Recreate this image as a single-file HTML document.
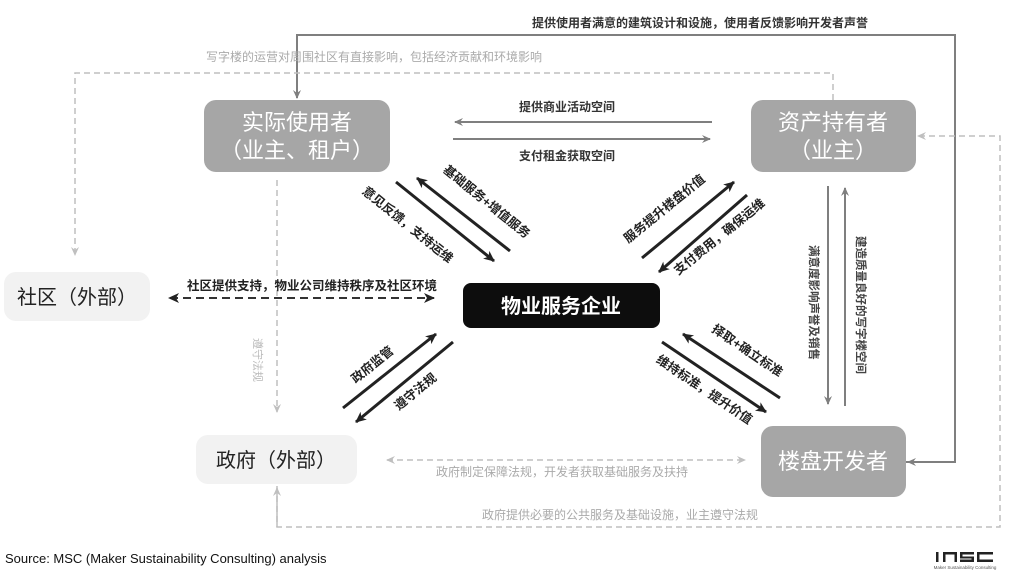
<!DOCTYPE html>
<html><head><meta charset="utf-8"><style>
html,body{margin:0;padding:0;background:#fff;}
svg{display:block;font-family:"Liberation Sans","Noto Sans CJK SC",sans-serif;}
</style></head><body>
<svg width="1017" height="581" viewBox="0 0 1017 581" xmlns="http://www.w3.org/2000/svg">
<defs>
<marker id="ag" markerWidth="10" markerHeight="10" refX="8" refY="5" orient="auto" markerUnits="userSpaceOnUse"><path d="M0,1 L9,5 L0,9 L3,5 z" fill="#7f7f7f"/></marker>
<marker id="al" markerWidth="10" markerHeight="10" refX="8" refY="5" orient="auto" markerUnits="userSpaceOnUse"><path d="M0,1 L9,5 L0,9 L3,5 z" fill="#bfbfbf"/></marker>
<marker id="ak" markerWidth="12" markerHeight="12" refX="10" refY="6" orient="auto" markerUnits="userSpaceOnUse"><path d="M0,1 L11,6 L0,11 L3,6 z" fill="#222"/></marker>
<marker id="aks" markerWidth="12" markerHeight="12" refX="2" refY="6" orient="auto" markerUnits="userSpaceOnUse"><path d="M11,1 L0,6 L11,11 L8,6 z" fill="#222"/></marker>
<marker id="als" markerWidth="10" markerHeight="10" refX="1" refY="5" orient="auto" markerUnits="userSpaceOnUse"><path d="M9,1 L0,5 L9,9 L6,5 z" fill="#bfbfbf"/></marker>
</defs>

<polyline points="906,462 955,462 955,35 297,35 297,98" fill="none" stroke="#7f7f7f" stroke-width="2" marker-end="url(#ag)"/>
<line x1="955" y1="462" x2="908" y2="462" stroke="#7f7f7f" stroke-width="2" marker-end="url(#ag)"/>
<text x="700" y="27" font-size="12" font-weight="bold" fill="#333" text-anchor="middle">提供使用者满意的建筑设计和设施，使用者反馈影响开发者声誉</text>

<polyline points="833,100 833,73 75,73 75,255" fill="none" stroke="#bfbfbf" stroke-width="1.5" stroke-dasharray="6,4" marker-end="url(#al)"/>
<text x="374" y="61" font-size="12" fill="#aaa" text-anchor="middle">写字楼的运营对周围社区有直接影响，包括经济贡献和环境影响</text>

<polyline points="277,486 277,527 1000,527 1000,136 918,136" fill="none" stroke="#bfbfbf" stroke-width="1.5" stroke-dasharray="6,4" marker-end="url(#al)"/>
<line x1="277" y1="527" x2="277" y2="488" stroke="#bfbfbf" stroke-width="1.5" marker-end="url(#al)"/>
<text x="620" y="519" font-size="12" fill="#aaa" text-anchor="middle">政府提供必要的公共服务及基础设施，业主遵守法规</text>

<line x1="277" y1="180" x2="277" y2="412" stroke="#bfbfbf" stroke-width="1.5" stroke-dasharray="6,4" marker-end="url(#al)"/>
<text transform="translate(254,338) rotate(90)" font-size="11" fill="#bbb">遵守法规</text>

<line x1="387" y1="460" x2="745" y2="460" stroke="#bfbfbf" stroke-width="1.5" stroke-dasharray="6,4" marker-end="url(#al)" marker-start="url(#als)"/>
<text x="562" y="476" font-size="12" fill="#aaa" text-anchor="middle">政府制定保障法规，开发者获取基础服务及扶持</text>

<line x1="170" y1="298" x2="434" y2="298" stroke="#333" stroke-width="2" stroke-dasharray="8,5" marker-end="url(#ak)" marker-start="url(#aks)"/>
<text x="312" y="290" font-size="12.5" font-weight="bold" fill="#222" text-anchor="middle">社区提供支持，物业公司维持秩序及社区环境</text>

<line x1="712" y1="122" x2="455" y2="122" stroke="#7f7f7f" stroke-width="2" marker-end="url(#ag)"/>
<line x1="453" y1="139" x2="710" y2="139" stroke="#7f7f7f" stroke-width="2" marker-end="url(#ag)"/>
<text x="567" y="111" font-size="12" font-weight="bold" fill="#333" text-anchor="middle">提供商业活动空间</text>
<text x="567" y="160" font-size="12" font-weight="bold" fill="#333" text-anchor="middle">支付租金获取空间</text>

<line x1="828" y1="186" x2="828" y2="404" stroke="#7f7f7f" stroke-width="2" marker-end="url(#ag)"/>
<line x1="845" y1="406" x2="845" y2="188" stroke="#7f7f7f" stroke-width="2" marker-end="url(#ag)"/>
<text transform="translate(810,245) rotate(90)" font-size="11.5" font-weight="bold" fill="#444">满意度影响声誉及销售</text>
<text transform="translate(857,236) rotate(90)" font-size="11.5" font-weight="bold" fill="#444">建造质量良好的写字楼空间</text>

<g stroke="#222" stroke-width="3">
<line x1="510" y1="251" x2="417" y2="178" marker-end="url(#ak)"/>
<line x1="396" y1="182" x2="494" y2="261" marker-end="url(#ak)"/>
<line x1="642" y1="258" x2="734" y2="182" marker-end="url(#ak)"/>
<line x1="747" y1="195" x2="659" y2="272" marker-end="url(#ak)"/>
<line x1="343" y1="408" x2="436" y2="334" marker-end="url(#ak)"/>
<line x1="453" y1="342" x2="356" y2="422" marker-end="url(#ak)"/>
<line x1="780" y1="398" x2="683" y2="334" marker-end="url(#ak)"/>
<line x1="662" y1="342" x2="766" y2="412" marker-end="url(#ak)"/>
</g>
<g font-size="12.5" font-weight="bold" fill="#222" text-anchor="middle">
<text transform="translate(484,205) rotate(39)">基础服务+增值服务</text>
<text transform="translate(405,228) rotate(39)">意见反馈，支持运维</text>
<text transform="translate(667,212) rotate(-39)">服务提升楼盘价值</text>
<text transform="translate(722,240) rotate(-39)">支付费用，确保运维</text>
<text transform="translate(375,368) rotate(-39)">政府监管</text>
<text transform="translate(418,395) rotate(-39)">遵守法规</text>
<text transform="translate(745,354) rotate(34)">择取+确立标准</text>
<text transform="translate(702,393) rotate(34)">维持标准，提升价值</text>
</g>

<rect x="204" y="100" width="186" height="72" rx="12" fill="#a6a6a6"/>
<text x="297" y="130" font-size="22" fill="#fff" text-anchor="middle">实际使用者</text>
<text x="297" y="158" font-size="22" fill="#fff" text-anchor="middle">（业主、租户）</text>

<rect x="751" y="100" width="165" height="72" rx="12" fill="#a6a6a6"/>
<text x="833" y="130" font-size="22" fill="#fff" text-anchor="middle">资产持有者</text>
<text x="833" y="158" font-size="22" fill="#fff" text-anchor="middle">（业主）</text>

<rect x="4" y="272" width="146" height="49" rx="12" fill="#f2f2f2"/>
<text x="77" y="304" font-size="20" fill="#222" text-anchor="middle">社区（外部）</text>

<rect x="463" y="283" width="197" height="45" rx="8" fill="#0d0d0d"/>
<text x="561" y="313" font-size="20" font-weight="bold" fill="#fff" text-anchor="middle">物业服务企业</text>

<rect x="196" y="435" width="161" height="49" rx="12" fill="#f2f2f2"/>
<text x="276" y="467" font-size="20" fill="#222" text-anchor="middle">政府（外部）</text>

<rect x="761" y="426" width="145" height="71" rx="12" fill="#a6a6a6"/>
<text x="833" y="469" font-size="22" fill="#fff" text-anchor="middle">楼盘开发者</text>

<text x="5" y="563" font-size="13" fill="#111">Source: MSC (Maker Sustainability Consulting) analysis</text>
<g fill="#222">
<rect x="936" y="552" width="2.5" height="10"/>
<path d="M943,562 v-10 h14 v10 h-2.5 v-7.5 h-9 v7.5 z"/>
<path d="M960,552 h14 v2.5 h-11.5 v2 h11.5 v5.5 h-14 v-2.5 h11.5 v-1 h-11.5 z"/>
<path d="M977,552 h16 v2.5 h-13.5 v5 h13.5 v2.5 h-16 z"/>
</g>
<text x="965" y="569" font-size="4.5" fill="#555" text-anchor="middle">Maker Sustainability Consulting</text>
</svg>
</body></html>
